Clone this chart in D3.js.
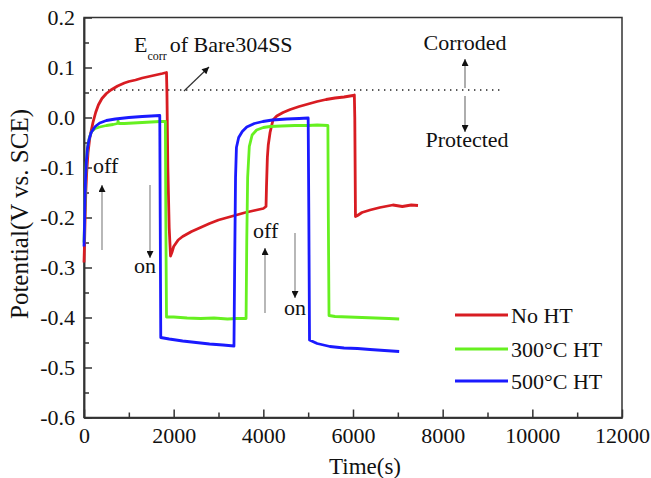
<!DOCTYPE html>
<html><head><meta charset="utf-8">
<script src="https://cdn.jsdelivr.net/npm/d3@7"></script>
<style>
html,body{margin:0;padding:0;background:#fff;}
</style></head>
<body><svg id="c" width="651" height="478" font-family="'Liberation Serif', 'Times New Roman', serif"></svg>
<script>
// ---- data ----
const seriesNames = ["No HT", "300°C HT", "500°C HT"];
const seriesColors = ["#d81c22", "#66f020", "#1a1aff"];
const noHT = [[0,-0.29],[10,-0.26],[25,-0.20],[40,-0.15],[60,-0.11],[90,-0.07],[130,-0.04],[200,-0.01],[260,0.01],[320,0.025],[400,0.038],[500,0.048],[600,0.055],[750,0.063],[900,0.069],[1000,0.072],[1150,0.075],[1300,0.079],[1450,0.082],[1600,0.085],[1750,0.088],[1840,0.090],[1850,0.05],[1870,-0.1],[1900,-0.22],[1930,-0.277],[1960,-0.27],[2000,-0.258],[2100,-0.245],[2200,-0.238],[2400,-0.228],[2600,-0.22],[2800,-0.212],[3000,-0.205],[3200,-0.2],[3400,-0.195],[3600,-0.19],[3800,-0.186],[4000,-0.182],[4060,-0.178],[4070,-0.14],[4090,-0.08],[4110,-0.055],[4150,-0.03],[4215,-0.005],[4300,0.003],[4440,0.01],[4600,0.016],[4800,0.022],[5000,0.027],[5200,0.032],[5400,0.036],[5600,0.039],[5800,0.041],[6000,0.044],[6030,0.045],[6040,0.0],[6055,-0.198],[6100,-0.196],[6200,-0.19],[6380,-0.185],[6600,-0.18],[6890,-0.175],[7100,-0.178],[7300,-0.175],[7450,-0.176]];
const ht300 = [[0,-0.25],[15,-0.2],[30,-0.14],[50,-0.09],[80,-0.06],[120,-0.04],[170,-0.028],[250,-0.022],[350,-0.019],[500,-0.016],[650,-0.014],[750,-0.012],[760,-0.007],[775,-0.012],[900,-0.012],[1100,-0.011],[1300,-0.01],[1500,-0.009],[1700,-0.008],[1815,-0.008],[1825,-0.2],[1840,-0.399],[2000,-0.399],[2300,-0.401],[2600,-0.402],[2900,-0.401],[3200,-0.403],[3400,-0.402],[3615,-0.402],[3630,-0.25],[3650,-0.12],[3687,-0.058],[3750,-0.035],[3850,-0.025],[4000,-0.02],[4150,-0.018],[4400,-0.017],[4700,-0.016],[5000,-0.016],[5200,-0.015],[5440,-0.016],[5450,-0.2],[5465,-0.396],[5600,-0.398],[5900,-0.399],[6200,-0.4],[6500,-0.401],[6800,-0.402],[7030,-0.403]];
const ht500 = [[0,-0.258],[10,-0.22],[20,-0.17],[35,-0.12],[55,-0.085],[80,-0.06],[110,-0.045],[160,-0.03],[250,-0.018],[350,-0.011],[500,-0.006],[700,-0.003],[1000,0.0],[1300,0.002],[1500,0.003],[1690,0.004],[1700,-0.2],[1712,-0.44],[1900,-0.443],[2200,-0.447],[2500,-0.45],[2800,-0.453],[3100,-0.455],[3345,-0.457],[3360,-0.3],[3380,-0.12],[3400,-0.06],[3450,-0.04],[3530,-0.028],[3630,-0.019],[3800,-0.012],[3990,-0.008],[4200,-0.005],[4520,-0.003],[4800,-0.002],[5000,-0.001],[5015,-0.2],[5030,-0.445],[5200,-0.452],[5485,-0.458],[5800,-0.461],[6100,-0.462],[6380,-0.464],[6700,-0.466],[7030,-0.468]];
const xTicks = [0,2000,4000,6000,8000,10000,12000];
const xMinor = [1000,3000,5000,7000,9000,11000];
const yTicks = [-0.6,-0.5,-0.4,-0.3,-0.2,-0.1,0.0,0.1,0.2];
const yMinor = [-0.55,-0.45,-0.35,-0.25,-0.15,-0.05,0.05,0.15];
const ecorr = 0.055;

// ---- layout ----
const FONT = "'Liberation Serif', 'Times New Roman', serif";
const svg = d3.select("#c");
const L = 84, T = 17.5, R = 622, B = 417.5;
const x = d3.scaleLinear().domain([0,12000]).range([L,R]);
const y = d3.scaleLinear().domain([-0.6,0.2]).range([B,T]);
const FS = 22;

// frame
svg.append("rect").attr("x",L).attr("y",T).attr("width",R-L).attr("height",B-T)
  .attr("fill","none").attr("stroke","#333").attr("stroke-width",1.5);

const fmt = v => d3.format(".1f")(v).replace("\u2212","-");
const gx = svg.append("g").attr("transform",`translate(0,${B})`)
  .call(d3.axisBottom(x).tickValues(xTicks).tickSize(-8).tickSizeOuter(0).tickPadding(10).tickFormat(d3.format("d")));
const gxm = svg.append("g").attr("transform",`translate(0,${B})`)
  .call(d3.axisBottom(x).tickValues(xMinor).tickSize(-5).tickSizeOuter(0).tickFormat(""));
const gy = svg.append("g").attr("transform",`translate(${L},0)`)
  .call(d3.axisLeft(y).tickValues(yTicks).tickSize(-8).tickSizeOuter(0).tickPadding(9).tickFormat(fmt));
const gym = svg.append("g").attr("transform",`translate(${L},0)`)
  .call(d3.axisLeft(y).tickValues(yMinor).tickSize(-5).tickSizeOuter(0).tickFormat(""));
[gx,gxm,gy,gym].forEach(g=>{
  g.attr("font-family",FONT).attr("font-size",FS);
  g.select(".domain").attr("stroke","#333").attr("stroke-width",1.5);
  g.selectAll(".tick line").attr("stroke","#333").attr("stroke-width",1.5);
  g.selectAll(".tick text").attr("font-size",FS).attr("font-family",FONT).attr("fill","#111");
});

function txt(xx,yy,s,size,anchor){
  return svg.append("text").attr("x",xx).attr("y",yy).attr("font-family",FONT)
    .attr("font-size",size||FS).attr("fill","#111").attr("text-anchor",anchor||"start").text(s);
}

// axis titles
txt(365,474,"Time(s)",23,"middle");
svg.append("text").attr("transform","translate(28,214) rotate(-90)").attr("text-anchor","middle")
  .attr("font-family",FONT).attr("fill","#111").attr("font-size",25).text("Potential(V vs. SCE)");

// Ecorr dotted line
svg.append("line").attr("x1",90).attr("x2",500).attr("y1",y(ecorr)).attr("y2",y(ecorr))
  .attr("stroke","#222").attr("stroke-width",1.4).attr("stroke-dasharray","1.4,4.6");

// series
const line = d3.line().x(d=>x(d[0])).y(d=>y(d[1]));
[noHT, ht300, ht500].forEach((s,i)=>{
  svg.append("path").datum(s).attr("d",line).attr("fill","none")
    .attr("stroke",seriesColors[i]).attr("stroke-width",2.8).attr("stroke-linejoin","round");
});

// arrowheads
const defs = svg.append("defs");
defs.append("marker").attr("id","ah").attr("viewBox","0 0 10 10").attr("refX",10).attr("refY",5)
  .attr("markerUnits","userSpaceOnUse").attr("markerWidth",10).attr("markerHeight",7).attr("orient","auto")
  .append("path").attr("d","M0,0 L10,5 L0,10 z").attr("fill","#111");
function arrow(x1,y1,x2,y2,col){
  svg.append("line").attr("x1",x1).attr("y1",y1).attr("x2",x2).attr("y2",y2)
    .attr("stroke",col).attr("stroke-width",1.2).attr("marker-end","url(#ah)");
}
arrow(102,250,102,185,"#888");
arrow(150,185,150,258,"#888");
arrow(265,313,265,248,"#888");
arrow(295,233,295,298,"#888");
arrow(184,91,209,67,"#333");
arrow(465,88,465,59,"#777");
arrow(465,96,465,132,"#777");

// annotation texts
txt(93,173,"off");
txt(134,273,"on");
txt(253,238,"off");
txt(284,315,"on");
const et = txt(134,52,"");
et.append("tspan").text("E");
et.append("tspan").attr("font-size",12).attr("dy",8).text("corr");
et.append("tspan").attr("dy",-8).attr("dx",3).text("of Bare304SS");
txt(465,50,"Corroded",FS,"middle");
txt(467,147,"Protected",FS,"middle");

// legend
const legY = [315,349,381];
seriesNames.forEach((n,i)=>{
  svg.append("line").attr("x1",455).attr("x2",508).attr("y1",legY[i]).attr("y2",legY[i])
    .attr("stroke",seriesColors[i]).attr("stroke-width",2.8);
  txt(511,legY[i]+8,n);
});
</script></body></html>
